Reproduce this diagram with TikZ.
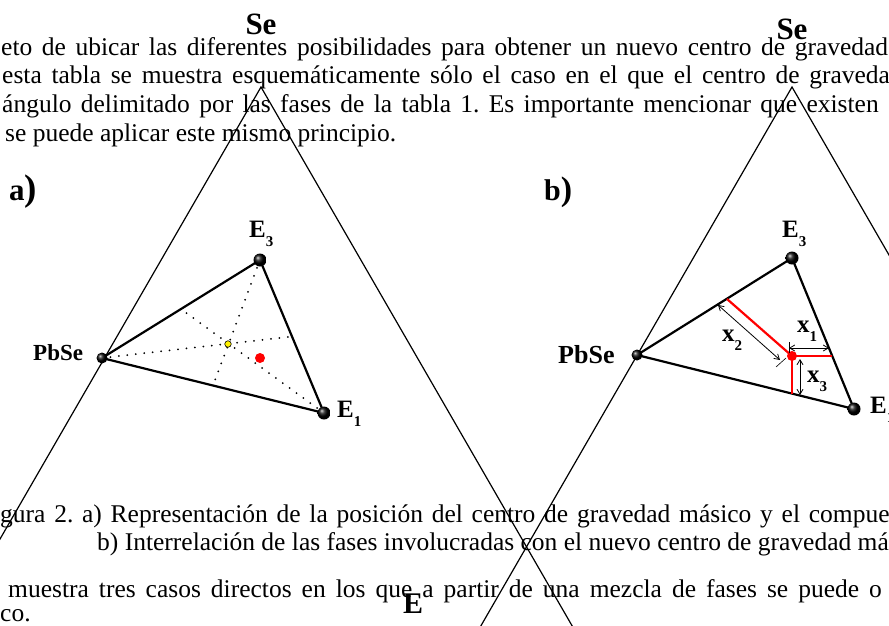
\documentclass[tikz,border=0pt]{standalone}
\usepackage{fontspec}
\setmainfont{Liberation Serif}
\usetikzlibrary{arrows.meta,calc}
\begin{document}
\begin{tikzpicture}[x=1pt,y=-1pt,
 bodytext/.style={anchor=base west,inner sep=0pt,font=\fontsize{25.5}{30}\selectfont},
 bigside/.style={line width=1.2pt},
 innerside/.style={line width=2.2pt,line join=round},
 median/.style={line width=2pt,dash pattern=on 0pt off 8.5pt,line cap=round},
 vball/.style={circle,inner sep=0pt,minimum size=#1,shade,ball color=black},
 vball/.default=13pt,
 lbl/.style={anchor=base west,inner sep=0pt,font=\bfseries\fontsize{25}{28}\selectfont},
 selbl/.style={anchor=base,inner sep=0pt,font=\bfseries\fontsize{31}{34}\selectfont},
 redline/.style={red,line width=2.2pt},
 dimarrow/.style={line width=0.8pt,{Straight Barb[length=5pt,width=6pt]}-{Straight Barb[length=5pt,width=6pt]}},
 dimtick/.style={line width=0.6pt}
]
\newcommand{\sbx}[1]{\raisebox{-9.5pt}{\fontsize{15}{15}\selectfont #1}}
\useasboundingbox (0,0) rectangle (889,625);
\clip (0,0) rectangle (889,625);
\fill[white] (0,0) rectangle (889,625);

% ---- body text ----
\node[bodytext] (t1) at (1,55) {\frenchspacing\spaceskip=9.6pt\relax eto de ubicar las diferentes posibilidades para obtener un nuevo centro de gravedad};
\node[bodytext] (t2) at (2,83.5) {\frenchspacing\spaceskip=9.7pt\relax esta tabla se muestra esquemáticamente sólo el caso en el que el centro de graveda};
\node[bodytext] (t3) at (2,112.4) {\frenchspacing\spaceskip=9.3pt\relax ángulo delimitado por las fases de la tabla 1. Es importante mencionar que existen};
\node[bodytext] (t4) at (5,141) {\frenchspacing se puede aplicar este mismo principio.};
\node[bodytext] (c1) at (0,522) {\frenchspacing\spaceskip=8.75pt\relax gura 2. a) Representación de la posición del centro de gravedad másico y el compue};
\node[bodytext] (c2) at (97,550) {\frenchspacing b) Interrelación de las fases involucradas con el nuevo centro de gravedad má};
\node[bodytext] (p1) at (8,597) {\frenchspacing\spaceskip=10pt\relax muestra tres casos directos en los que a partir de una mezcla de fases se puede o};
\node[bodytext] (p2) at (0,621.5) {co.};

% ---- big triangles ----
\coordinate (SeA) at (261,87);
\coordinate (aL) at ($(SeA)+(-360,623.5)$);
\coordinate (aR) at ($(SeA)+(360,623.5)$);
\draw[bigside] (aL) -- (SeA) -- (aR);
\coordinate (SeB) at (792,87);
\coordinate (bL) at ($(SeB)+(-360,623.5)$);
\coordinate (bR) at ($(SeB)+(360,623.5)$);
\draw[bigside] (bL) -- (SeB) -- (bR);
\node[selbl] (SeLa) at (261,34) {Se};
\node[selbl] (SeLb) at (792,39) {Se};
\node[anchor=base,inner sep=0pt,font=\bfseries\fontsize{30}{32}\selectfont] (Ebot) at (413,613) {E};

% ---- panel a ----
\coordinate (PbA) at (102,358);
\coordinate (E3A) at (260,260);
\coordinate (E1A) at (324,413);
\draw[median] (PbA) -- ($(E3A)!0.5!(E1A)$);
\draw[median] (E3A) -- ($(PbA)!0.5!(E1A)$);
\draw[median] (E1A) -- ($(PbA)!0.5!(E3A)$);
\draw[innerside] (PbA) -- (E3A) -- (E1A) -- cycle;
\node[circle,inner sep=0pt,minimum size=6.5pt,fill=yellow,draw=black,line width=0.6pt] (cgA) at (228,344) {};
\node[circle,inner sep=0pt,minimum size=10pt,fill=red] (rdA) at (260,358) {};
\node[vball=11pt] (bPbA) at (PbA) {};
\node[vball] (bE3A) at (E3A) {};
\node[vball] (bE1A) at (E1A) {};
\node[lbl] (lPbA) at (33,360) {\fontsize{23}{26}\selectfont PbSe};
\node[lbl] (lE3A) at (249,237) {E\sbx{3}};
\node[lbl] (lE1A) at (337,417) {E\sbx{1}};
\node[anchor=base west,inner sep=0pt,font=\bfseries] (la) at (9,200) {\fontsize{31}{34}\selectfont a\fontsize{37}{40}\selectfont )};

% ---- panel b ----
\coordinate (PbB) at (637,355);
\coordinate (E3B) at (792,258);
\coordinate (E1B) at (854,409);
\draw[innerside] (PbB) -- (E3B) -- (E1B) -- cycle;
\coordinate (Rb) at (792,356);
\coordinate (Rb1) at (832,356);
\coordinate (Rb3) at (792,394);
\coordinate (Rb2) at (727,299);
\draw[redline] (Rb2) -- (Rb);
\draw[redline] (Rb1) -- (Rb) -- (Rb3);
\node[circle,inner sep=0pt,minimum size=10pt,fill=red] (rdB) at (Rb) {};
% dimension arrows
\coordinate (x1s) at (789,348);
\coordinate (x1e) at (829,348);
\coordinate (x1t1) at (789,342);
\coordinate (x1t2) at (789,353);
\draw[dimtick] (x1t1) -- (x1t2);
\draw[dimarrow] (x1s) -- (x1e);
\coordinate (x3s) at (800,359);
\coordinate (x3e) at (800,395);
\draw[dimarrow] (x3s) -- (x3e);
\coordinate (x2s) at (718,305);
\coordinate (x2e) at (780,360);
\coordinate (x2t1) at (776,367);
\coordinate (x2t2) at (786,358);
\draw[dimtick] (x2t1) -- (x2t2);
\draw[dimarrow] (x2s) -- (x2e);
\node[vball=11pt] (bPbB) at (PbB) {};
\node[vball] (bE3B) at (E3B) {};
\node[vball] (bE1B) at (E1B) {};
\node[lbl] (lPbB) at (558,363) {\fontsize{26}{28}\selectfont PbSe};
\node[lbl] (lE3B) at (782,237) {E\sbx{3}};
\node[lbl] (lE1B) at (870,413) {E\sbx{1}};
\node[lbl] (lx1) at (797,332) {x\sbx{1}};
\node[lbl] (lx2) at (722,341) {x\sbx{2}};
\node[lbl] (lx3) at (807,382) {x\sbx{3}};
\node[anchor=base west,inner sep=0pt,font=\bfseries] (lb) at (544,200) {\fontsize{30}{34}\selectfont b\fontsize{34}{40}\selectfont )};
\end{tikzpicture}
\end{document}
